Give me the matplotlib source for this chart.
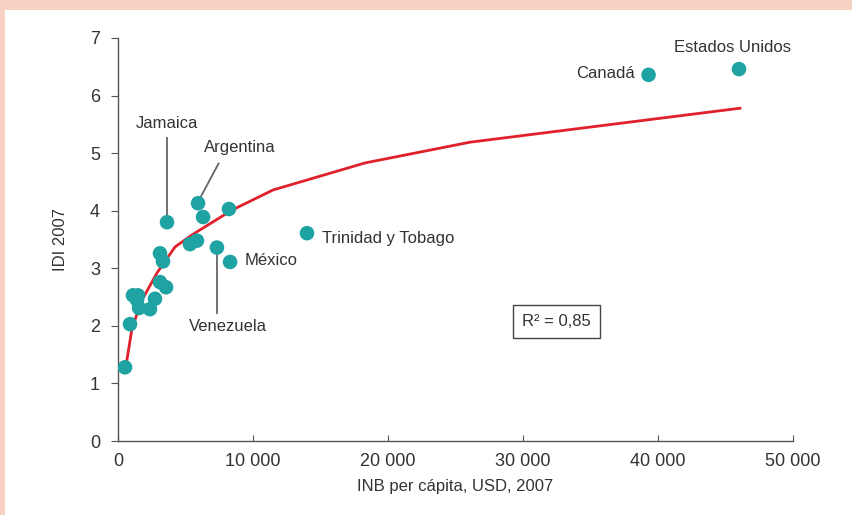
import matplotlib
matplotlib.use("Agg")
import matplotlib.pyplot as plt
from matplotlib.patches import Rectangle

plt.rcParams['font.family'] = ['Liberation Sans', 'DejaVu Sans']

# Datos: INB per cápita (USD, 2007) e IDI 2007
inb = [520, 890, 1110, 1480, 1410, 1560, 2370, 2740, 3110, 3560, 3110, 3330,
       3630, 5330, 5850, 5930, 6300, 8220, 7330, 8300, 14000, 39300, 46000]
idi = [1.28, 2.03, 2.53, 2.53, 2.45, 2.31, 2.29, 2.47, 2.76, 2.67, 3.26, 3.12,
       3.80, 3.42, 3.48, 4.13, 3.89, 4.03, 3.36, 3.11, 3.61, 6.36, 6.46]

# Curva de tendencia logarítmica (vértices)
fit_x = [520, 1040, 1780, 2890, 4220, 5480, 8440, 11480, 18300, 26070, 46070]
fit_y = [1.20, 1.96, 2.45, 2.92, 3.37, 3.58, 4.01, 4.36, 4.83, 5.19, 5.78]

W, H = 852, 515
fig = plt.figure(figsize=(W / 100, H / 100), dpi=100, facecolor='#F7D1C1')
fig.patches.append(Rectangle((5 / W, 0), 1, 1 - 10 / H, transform=fig.transFigure,
                             facecolor='white', edgecolor='none', zorder=-5))

ax = fig.add_axes([118 / W, 1 - 441 / H, (793 - 118) / W, (441 - 38) / H])
ax.set_facecolor('none')

txt = '#333333'
ax.plot(fit_x, fit_y, color='#E0202A', lw=2.0, zorder=2)
ax.scatter(inb, idi, s=110, color='#1FA2A2', edgecolors='none', zorder=3)

ax.set_xlim(0, 50000)
ax.set_ylim(0, 7)
ax.set_xticks(range(0, 50001, 10000))
ax.set_xticklabels(['0', '10 000', '20 000', '30 000', '40 000', '50 000'])
ax.set_yticks(range(0, 8))
for s in ['top', 'right']:
    ax.spines[s].set_visible(False)
for s in ['left', 'bottom']:
    ax.spines[s].set_color('#555555')
    ax.spines[s].set_linewidth(1.0)
ax.tick_params(axis='x', direction='in', length=4, color='#555555', labelsize=13,
               labelcolor=txt, pad=9)
ax.tick_params(axis='y', direction='out', length=5, color='#555555', labelsize=13,
               labelcolor=txt, pad=8)
ax.set_xlabel('INB per cápita, USD, 2007', fontsize=12, color=txt, labelpad=6)
ax.set_ylabel('IDI 2007', fontsize=12, color=txt, labelpad=16)

# Etiquetas de países
lc = '#666666'
fs = 12
ax.plot([3630, 3630], [3.93, 5.27], color=lc, lw=1.3, zorder=1)
ax.text(3630, 5.52, 'Jamaica', ha='center', va='center', fontsize=fs, color=txt)
ax.plot([6150, 7450], [4.25, 4.82], color=lc, lw=1.3, zorder=1)
ax.text(9040, 5.09, 'Argentina', ha='center', va='center', fontsize=fs, color=txt)
ax.plot([7330, 7330], [3.23, 2.22], color=lc, lw=1.3, zorder=1)
ax.text(8150, 1.99, 'Venezuela', ha='center', va='center', fontsize=fs, color=txt)
ax.text(9400, 3.14, 'México', ha='left', va='center', fontsize=fs, color=txt)
ax.text(15100, 3.52, 'Trinidad y Tobago', ha='left', va='center', fontsize=fs, color=txt)
ax.text(38300, 6.39, 'Canadá', ha='right', va='center', fontsize=fs, color=txt)
ax.text(45550, 6.84, 'Estados Unidos', ha='center', va='center', fontsize=fs, color=txt)

ax.text(32450, 2.07, 'R² = 0,85', ha='center', va='center', fontsize=fs, color=txt,
        bbox=dict(boxstyle='square,pad=0.55', facecolor='white', edgecolor='#444444', lw=1.0))

fig.savefig('out.png', dpi=100, facecolor=fig.get_facecolor())
